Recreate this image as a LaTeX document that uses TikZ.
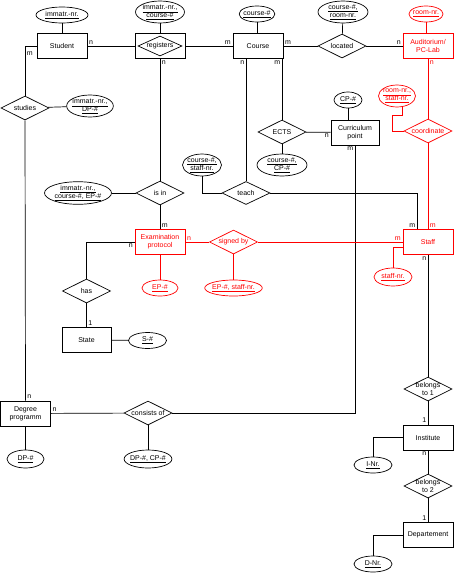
\documentclass[tikz,border=0pt]{standalone}
\usepackage{fontspec}
\setmainfont{Liberation Sans}
\usepackage{xcolor}
\usepackage{tikz}
\usetikzlibrary{shapes.geometric}
\makeatletter
\renewcommand\small{%
  \@setfontsize\small{7pt}{8pt}%
}
\makeatother

\begin{document}
\begin{tikzpicture}[x=1pt, y=-1pt, line width=0.7pt, every node/.style={font=\small},
  entity/.style={draw, rectangle, minimum width=50pt, minimum height=25pt, inner sep=1pt, align=center},
  rel/.style={draw, diamond, aspect=2, inner sep=0pt, minimum width=48pt, minimum height=24pt, align=center},
  attr/.style={draw, ellipse, inner xsep=-1pt, inner ysep=0pt, minimum width=34pt, minimum height=16pt, align=center},
  attrtwo/.style={attr, minimum height=22pt},
  card/.style={inner sep=1.5pt}]
  \useasboundingbox (0,0) rectangle (454,573);

  \node[entity] (student) at (62,46) {Student};
  \node[entity] (regbox) at (160,46) {};
  \node[rel, minimum width=44pt, minimum height=20pt] (registers) at (160,46) {registers};
  \node[entity] (course) at (258,46) {Course};
  \node[rel] (located) at (342,46) {located};
  \node[entity, red] (audi) at (428,46) {Auditorium/\\PC-Lab};
  \node[rel] (studies) at (25,108) {studies};
  \node[rel] (ects) at (282,132) {ECTS};
  \node[entity, minimum width=48pt] (curr) at (355,132.5) {Curriculum\\point};
  \node[rel, red] (coord) at (428,131) {coordinate};
  \node[rel] (isin) at (160,193) {is in};
  \node[rel, minimum height=23pt] (teach) at (246,193) {teach};
  \node[entity, red] (exam) at (160,242) {Examination\\protocol};
  \node[rel, red] (signed) at (233.5,242) {signed by};
  \node[entity, red] (staff) at (428,242) {Staff};
  \node[rel] (has) at (86.5,291) {has};
  \node[entity, minimum width=49pt] (state) at (86.5,340) {State};
  \node[rel, inner sep=-4pt] (belong1) at (428,389) {belongs\\to 1};
  \node[entity] (degree) at (25.5,413.5) {Degree\\programm};
  \node[rel] (consists) at (148,413) {consists of};
  \node[entity] (inst) at (428,437.5) {Institute};
  \node[rel, inner sep=-4pt] (belong2) at (428,486) {belongs\\to 2};
  \node[entity] (dept) at (428,535) {Departement};

  % attributes
  \node[attr, minimum width=52pt] (sid) at (62,15) {\underline{immatr.-nr.}};
  \node[attrtwo, minimum width=49pt] (rid) at (160,12) {\underline{immatr.-nr.,}\\\underline{course-\#}};
  \node[attr] (cid) at (257,14) {\underline{course-\#}};
  \node[attrtwo, minimum width=50pt] (lid) at (343,12) {\underline{course-\#,}\\\underline{room-nr.}};
  \node[attr, red, minimum width=32pt] (aid) at (426,14) {\underline{room-nr.}};
  \node[attrtwo, minimum width=43pt] (stid) at (90,106) {\underline{immatr.-nr.,}\\\underline{DP-\#}};
  \node[attr, minimum width=28pt] (cpid) at (348,100) {\underline{CP-\#}};
  \node[attrtwo, red, minimum width=37pt] (rsid) at (397,96) {\underline{room-nr.,}\\\underline{staff-nr.}};
  \node[attrtwo, minimum width=50pt] (ectsid) at (282,165) {\underline{course-\#,}\\\underline{CP-\#}};
  \node[attrtwo, minimum width=39pt] (csid) at (202,165) {\underline{course-\#,}\\\underline{staff-nr.}};
  \node[attrtwo, minimum width=67pt] (iid) at (78,193) {\underline{immatr.-nr.,}\\\underline{course-\#, EP-\#}};
  \node[attr, red, minimum width=36pt] (epid) at (160,288) {\underline{EP-\#}};
  \node[attr, red, minimum width=53pt] (esid) at (233.5,288) {\underline{EP-\#, staff-nr.}};
  \node[attr, red, minimum width=38pt, minimum height=18pt] (snid) at (393,277) {\underline{staff-nr.}};
  \node[attr, minimum width=38pt] (sstid) at (147.5,340.5) {\underline{S-\#}};
  \node[attr, minimum width=37pt, minimum height=18pt] (dpid) at (25.5,459) {\underline{DP-\#}};
  \node[attr, minimum width=43pt, minimum height=18pt] (dcid) at (148,459) {\underline{DP-\#, CP-\#}};
  \node[attr, minimum width=38pt] (inid) at (373,465) {\underline{I-Nr.}};
  \node[attr, minimum width=38pt] (dnid) at (373,564) {\underline{D-Nr.}};

  % relationships
  \draw (student) -- node[card, at start, above right] {n} (regbox);
  \draw (regbox) -- node[card, at end, above left] {m} (course);
  \draw (course) -- node[card, at start, above right] {m} (located);
  \draw (located) -- node[card, at end, above left] {n} (audi);
  \draw (student.west) -| node[card, pos=0.58, right] {m} (studies.north);
  \draw (studies.south) -- node[card, at end, above right] {n} (degree.north);
  \draw (regbox.south) -- node[card, at start, below right] {n} (isin.north);
  \draw (isin.south) -- node[card, at end, above right] {m} (exam.north);
  \draw ([xshift=-12pt]course.south) -- node[card, at start, below left] {n} (teach.north);
  \draw ([xshift=24pt]course.south) -- node[card, at start, below left] {m} (ects.north);
  \draw (ects) -- node[card, at end, below left] {n} (curr);
  \draw (curr.south) |- node[card, at start, below left] {m} (consists.east);
  \draw (degree) -- node[card, at start, above right] {n} (consists);
  \draw (teach.east) -| node[card, at end, above left] {m} ([xshift=-11pt]staff.north);
  \draw[red] (audi.south) -- node[card, at start, below right] {n} (coord.north);
  \draw[red] (coord.south) -- node[card, at end, above right] {m} (staff.north);
  \draw[red] (exam) -- node[card, at start, above right] {n} (signed);
  \draw[red] (signed) -- node[card, at end, above left] {m} (staff);
  \draw (exam.west) -| node[card, at start, below left] {n} (has.north);
  \draw (has.south) -- node[card, at end, above right] {1} (state.north);
  \draw (staff.south) -- node[card, at start, below left] {n} (belong1.north);
  \draw (belong1.south) -- node[card, at end, above left] {1} (inst.north);
  \draw (inst.south) -- node[card, at start, below left] {n} (belong2.north);
  \draw (belong2.south) -- node[card, at end, above left] {1} (dept.north);

  % attribute links
  \draw (sid) -- (student);
  \draw (rid) -- (regbox);
  \draw (cid.south) -- (cid.south |- course.north);
  \draw (lid) -- (located);
  \draw[red] (aid.south) -- (aid.south |- audi.north);
  \draw (studies) -- (stid);
  \draw (cpid) -- (cpid |- curr.north);
  \draw[red] ([xshift=5pt]rsid.south) |- ++(-10,8) |- (coord.west);
  \draw (ects) -- (ectsid);
  \draw (csid.south) |- (teach.west);
  \draw (iid) -- (isin);
  \draw[red] (exam) -- (epid);
  \draw[red] (signed) -- (esid);
  \draw[red] ([yshift=-5pt]staff.west) -| (snid.north);
  \draw (state) -- (sstid);
  \draw (degree) -- (dpid);
  \draw (consists) -- (dcid);
  \draw (inst.west) -| (inid.north);
  \draw (dept.west) -| (dnid.north);
\end{tikzpicture}
\end{document}
